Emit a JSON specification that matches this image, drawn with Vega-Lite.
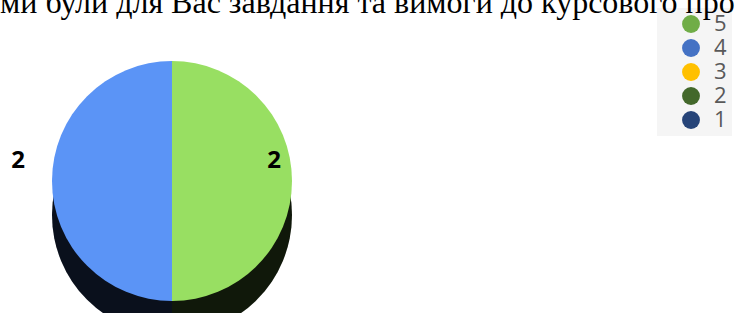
{
  "$schema": "https://vega.github.io/schema/vega-lite/v6.json",
  "width": 344,
  "height": 346,
  "padding": {"top": -13, "left": 0, "right": 0, "bottom": 0},
  "background": "white",
  "title": {
    "text": "ми були для Вас завдання та вимоги до курсового проекту?",
    "anchor": "start",
    "font": "Liberation Serif",
    "fontSize": 32,
    "fontWeight": "normal",
    "color": "#000000",
    "offset": -12
  },
  "data": {
    "values": [
      {"category": "5", "value": 2},
      {"category": "4", "value": 2},
      {"category": "3", "value": 0},
      {"category": "2", "value": 0},
      {"category": "1", "value": 0}
    ]
  },
  "layer": [
    {
      "mark": {"type": "arc", "radius": 120, "yOffset": 34, "fill": "#000000"},
      "encoding": {
        "theta": {"field": "value", "type": "quantitative", "stack": true},
        "order": {"field": "category", "sort": "descending"}
      }
    },
    {
      "mark": {"type": "arc", "radius": 120, "yOffset": 34, "opacity": 0.14},
      "encoding": {
        "theta": {"field": "value", "type": "quantitative", "stack": true},
        "order": {"field": "category", "sort": "descending"},
        "color": {
          "field": "category",
          "type": "nominal",
          "scale": {"domain": ["5", "4", "3", "2", "1"], "range": ["#70ad47", "#4472c4", "#ffc000", "#43682b", "#264478"]},
          "sort": ["5", "4", "3", "2", "1"],
          "legend": {
            "title": null,
            "orient": "none",
            "legendX": 657,
            "legendY": 0,
            "fillColor": "#f5f5f5",
            "padding": 5,
            "symbolType": "circle",
            "symbolSize": 320,
            "symbolOpacity": 1,
            "symbolStrokeWidth": 0,
            "symbolOffset": 18,
            "labelFont": "Open Sans",
            "labelFontSize": 22,
            "labelColor": "#595959",
            "labelOffset": 12,
            "rowPadding": 2
          }
        }
      }
    },
    {
      "mark": {"type": "arc", "radius": 120},
      "encoding": {
        "theta": {"field": "value", "type": "quantitative", "stack": true},
        "order": {"field": "category", "sort": "descending"},
        "fill": {
          "field": "category",
          "type": "nominal",
          "scale": {"domain": ["5", "4", "3", "2", "1"], "range": ["#98df62", "#5b94f6", "#ffd24d", "#4a7a30", "#2c4f8f"]},
          "legend": null
        }
      }
    },
    {
      "transform": [{"filter": "datum.value > 0"}],
      "mark": {"type": "text", "radius": 128, "xOffset": -26, "dy": -20, "font": "Open Sans", "fontSize": 24, "fontWeight": "bold", "color": "#000000"},
      "encoding": {
        "theta": {"field": "value", "type": "quantitative", "stack": true},
        "order": {"field": "category", "sort": "descending"},
        "text": {"field": "value", "type": "quantitative"}
      }
    }
  ],
  "config": {"view": {"stroke": null}}
}
